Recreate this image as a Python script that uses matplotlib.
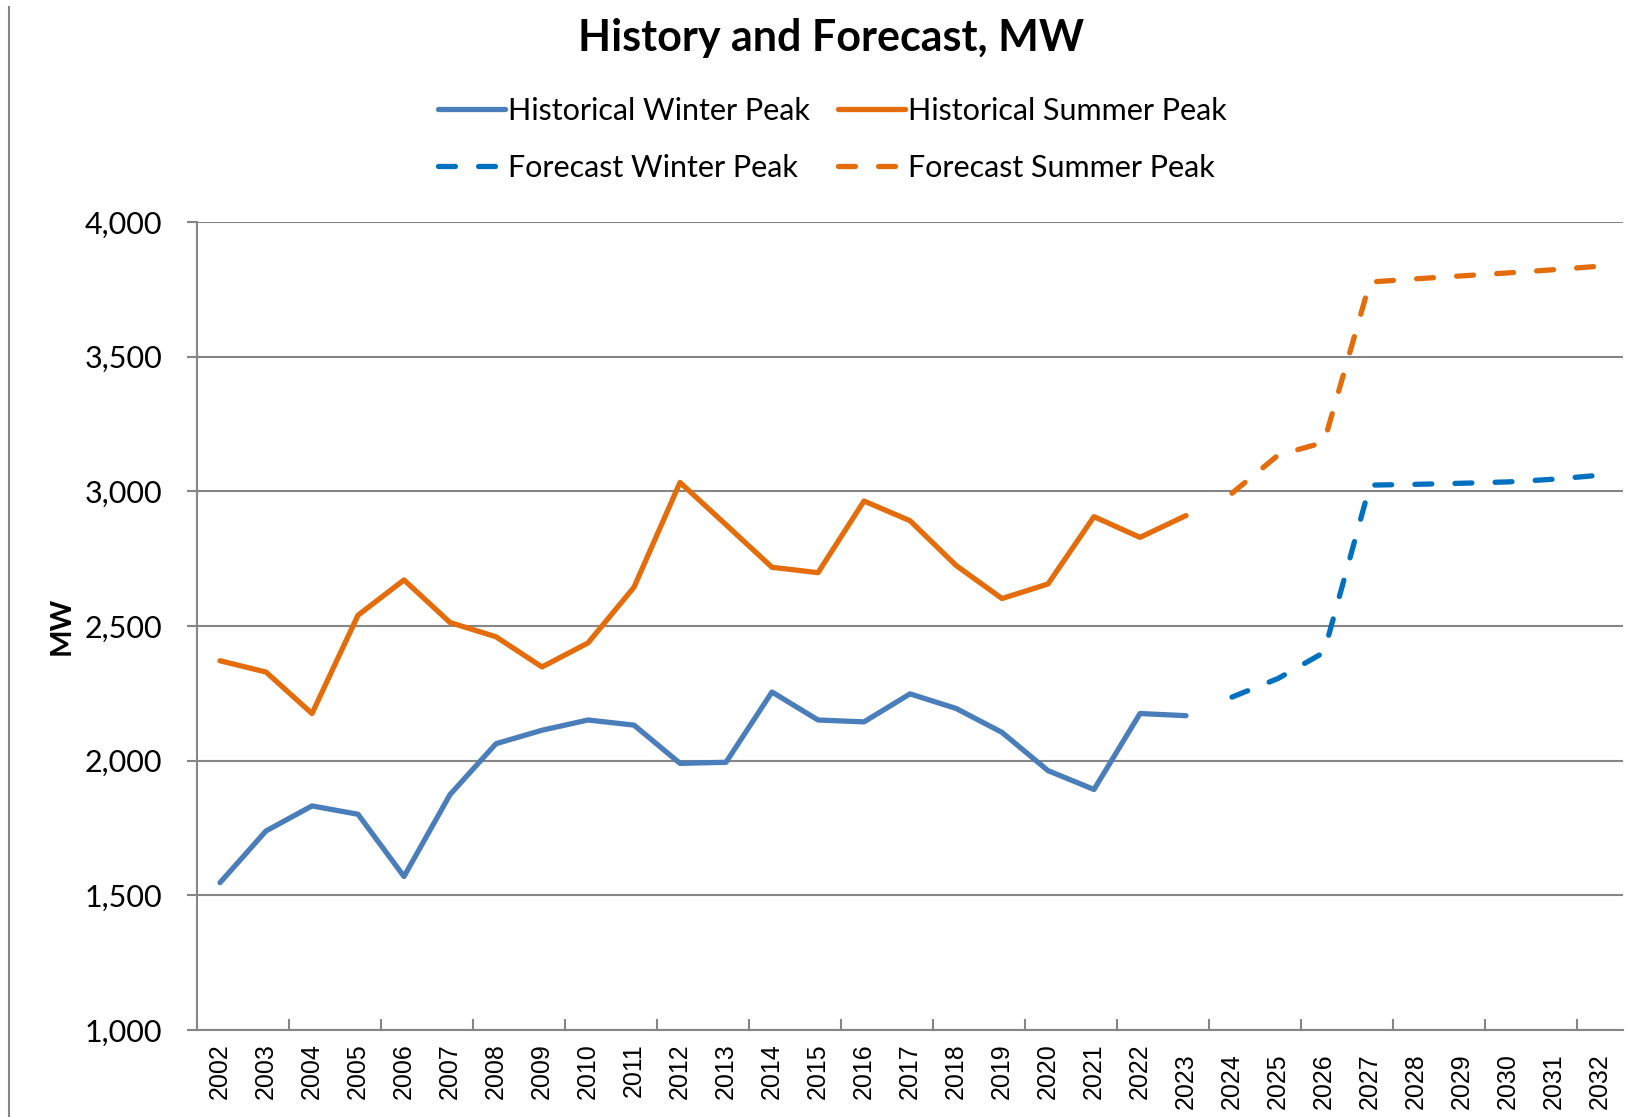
import matplotlib
matplotlib.use('Agg')
import matplotlib.pyplot as plt
from matplotlib.lines import Line2D
from matplotlib.transforms import ScaledTranslation

years = list(range(2002, 2033))
hist_years = list(range(2002, 2024))
fcst_years = list(range(2024, 2033))

hist_winter = [1547, 1739, 1832, 1801, 1570, 1874, 2063, 2113, 2151, 2132, 1990,
               1994, 2255, 2151, 2144, 2248, 2194, 2105, 1963, 1893, 2175, 2167]
hist_summer = [2371, 2329, 2175, 2540, 2671, 2513, 2460, 2348, 2437, 2644, 3033,
               2876, 2718, 2698, 2964, 2891, 2725, 2602, 2656, 2906, 2829, 2910]
fcst_winter = [2236, 2305, 2402, 3023, 3026, 3030, 3035, 3045, 3060]
fcst_summer = [2993, 3134, 3182, 3777, 3789, 3800, 3811, 3823, 3836]

grey = '#868686'
main_font = 'Lato'

fig = plt.figure(figsize=(16.26, 11.17), dpi=100)
ax = fig.add_axes([197 / 1626, 1 - 1030 / 1117, (1623 - 197) / 1626, (1030 - 222) / 1117])

lw = 3.8
dash = (3.2, 4.4)
l1, = ax.plot(hist_years, hist_winter, color='#4A7EBB', lw=lw, solid_capstyle='round',
              solid_joinstyle='round', label='Historical Winter Peak')
l2, = ax.plot(hist_years, hist_summer, color='#E46C0A', lw=lw, solid_capstyle='round',
              solid_joinstyle='round', label='Historical Summer Peak')
l3, = ax.plot(fcst_years, fcst_winter, color='#0070C0', lw=lw, dashes=dash,
              dash_capstyle='round', label='Forecast Winter Peak')
l4, = ax.plot(fcst_years, fcst_summer, color='#E46C0A', lw=lw, dashes=dash,
              dash_capstyle='round', label='Forecast Summer Peak')

ax.set_xlim(2001.5, 2032.5)
ax.set_ylim(1000, 4000)
ax.set_yticks(range(1000, 4001, 500))
ax.set_yticklabels([f'{v:,}' for v in range(1000, 4001, 500)])
ax.yaxis.grid(True, color=grey, lw=1.5)
ax.set_axisbelow(True)

for s in ['top', 'right']:
    ax.spines[s].set_visible(False)
for s in ['left', 'bottom']:
    ax.spines[s].set_color(grey)
    ax.spines[s].set_linewidth(1.5)

# category tick marks every two years, between categories
ax.set_xticks([y - 0.5 for y in years[::2]])
ax.set_xticklabels([])
ax.tick_params(axis='x', length=8, direction='in', color=grey, width=1.5)
ax.tick_params(axis='y', length=7, color=grey, width=1.5, pad=18)
for lbl in ax.get_yticklabels():
    lbl.set_fontsize(22)
    lbl.set_family(main_font)

# year labels; from 2023 on they sit a little lower in the original
for y in years:
    drop = 9.5 / 72 + (0.1 if y >= 2023 else 0)
    tr = ax.get_xaxis_transform() + ScaledTranslation(0, -drop, fig.dpi_scale_trans)
    ax.text(y, 0, str(y), transform=tr, rotation=90, ha='center', va='top',
            fontsize=18, family='Liberation Sans', rotation_mode='default')

ax.set_ylabel('MW', fontsize=21, fontweight='bold', family=main_font, labelpad=7)

fig.text(0.511, 0.966, 'History and Forecast, MW', ha='center', va='center',
         fontsize=31, fontweight='bold', family=main_font)

fig.legend(handles=[l1, l3, l2, l4], loc='center', bbox_to_anchor=(0.512, 0.875),
           ncol=2, frameon=False, prop={'family': main_font, 'size': 22},
           handlelength=2.2, handletextpad=0.1, columnspacing=0.9, labelspacing=0.95)

fig.add_artist(Line2D([9 / 1626, 9 / 1626], [0, 1 - 7 / 1117], color=grey, lw=1.5))

fig.savefig('out.png', dpi=100)
